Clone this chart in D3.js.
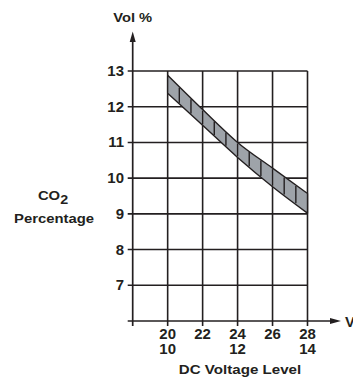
<!DOCTYPE html>
<html>
<head>
<meta charset="utf-8">
<script src="https://cdn.jsdelivr.net/npm/d3@7"></script>
<style>
  body { margin: 0; background: #fff; }
  text { font-family: "Liberation Sans", Arial, sans-serif; font-weight: bold; fill: #231f20; }
</style>
</head>
<body>
<div id="chart"></div>
<script>
// chart data
var voltage = [20, 22, 24, 26, 28]
var voltageAlt = ["10", "", "12", "", "14"]
var co2Upper = [12.88, 11.92, 11.0, 10.28, 9.57]
var co2Lower = [12.38, 11.48, 10.58, 9.76, 9.02]
var yTicks = [7, 8, 9, 10, 11, 12, 13]

var width = 353,
    height = 377

var svg = d3.select("#chart")
  .append("svg")
    .attr("width", width)
    .attr("height", height)

var x = d3.scaleLinear().domain([18, 28]).range([132.7, 307.5])
var y = d3.scaleLinear().domain([6, 13]).range([321, 71])

var ink = "#231f20"

// the source font is a little wider than Liberation, so stretch text sideways
function place(sel, px, py, sx) {
  return sel.attr("transform", "translate(" + px + "," + py + ") scale(" + sx + ",1)")
}

// horizontal grid
svg.selectAll(".hgrid")
  .data(yTicks)
  .enter()
  .append("line")
    .attr("x1", x(18) - 5)
    .attr("x2", x(28))
    .attr("y1", d => y(d))
    .attr("y2", d => y(d))
    .attr("stroke", ink)
    .attr("stroke-width", 1.6)

// vertical grid
svg.selectAll(".vgrid")
  .data(voltage)
  .enter()
  .append("line")
    .attr("x1", d => x(d))
    .attr("x2", d => x(d))
    .attr("y1", y(13))
    .attr("y2", y(6) + 5)
    .attr("stroke", ink)
    .attr("stroke-width", 1.6)

// band
var pts = voltage.map((v, i) => ({v: v, hi: co2Upper[i], lo: co2Lower[i]}))
var area = d3.area()
  .x(d => x(d.v))
  .y0(d => y(d.lo))
  .y1(d => y(d.hi))
  .curve(d3.curveMonotoneX)

svg.append("path")
  .datum(pts)
  .attr("d", area)
  .attr("fill", "#9ea3a9")
  .attr("stroke", ink)
  .attr("stroke-width", 1.4)
  .attr("stroke-linejoin", "round")

// hatch lines across the band
var hiAt = d3.scaleLinear().domain(voltage).range(co2Upper)
var loAt = d3.scaleLinear().domain(voltage).range(co2Lower)
var hatch = d3.range(1, 12).map(k => 20 + k * 2 / 3)
svg.selectAll(".hatch")
  .data(hatch)
  .enter()
  .append("line")
    .attr("x1", d => x(d))
    .attr("x2", d => x(d))
    .attr("y1", d => y(hiAt(d)) + 1)
    .attr("y2", d => y(loAt(d)) - 1)
    .attr("stroke", ink)
    .attr("stroke-width", 1.4)

// axes
svg.append("line")
  .attr("x1", x(18)).attr("x2", x(18))
  .attr("y1", y(6) + 5).attr("y2", 40)
  .attr("stroke", ink).attr("stroke-width", 1.7)
svg.append("path")
  .attr("d", "M" + x(18) + ",31.5 l-3,10.5 l6,0 z")
  .attr("fill", ink)

svg.append("line")
  .attr("x1", x(18) - 5).attr("x2", 331)
  .attr("y1", y(6)).attr("y2", y(6))
  .attr("stroke", ink).attr("stroke-width", 1.7)
svg.append("path")
  .attr("d", "M341," + y(6) + " l-11,-3 l0,6 z")
  .attr("fill", ink)

// tick labels
svg.selectAll(".ylab")
  .data(yTicks)
  .enter()
  .append("text")
    .attr("text-anchor", "end")
    .style("font-size", "14px")
    .text(d => d)
    .each(function(d) { place(d3.select(this), 124, y(d) + 5, 1.07) })

svg.selectAll(".xlab")
  .data(voltage)
  .enter()
  .append("text")
    .attr("text-anchor", "middle")
    .style("font-size", "14px")
    .text(d => d)
    .each(function(d) { place(d3.select(this), x(d), 339, 1.07) })

svg.selectAll(".xlab2")
  .data(voltage)
  .enter()
  .append("text")
    .attr("text-anchor", "middle")
    .style("font-size", "14px")
    .text((d, i) => voltageAlt[i])
    .each(function(d) { place(d3.select(this), x(d), 354, 1.07) })

// titles
place(svg.append("text"), x(18), 22, 1.09)
  .attr("text-anchor", "middle")
  .style("font-size", "13.5px")
  .text("Vol %")

place(svg.append("text"), 345, 327, 1.07)
  .style("font-size", "14px")
  .text("V")

place(svg.append("text"), 240, 374, 1.12)
  .attr("text-anchor", "middle")
  .style("font-size", "13.5px")
  .text("DC Voltage Level")

var co2 = place(svg.append("text"), 53, 200, 1.1)
  .attr("text-anchor", "middle")
  .style("font-size", "13.5px")
co2.append("tspan").text("CO")
co2.append("tspan").attr("dy", 4).style("font-size", "13px").text("2")

place(svg.append("text"), 54, 223, 1.1)
  .attr("text-anchor", "middle")
  .style("font-size", "13.5px")
  .text("Percentage")
</script>
</body>
</html>
